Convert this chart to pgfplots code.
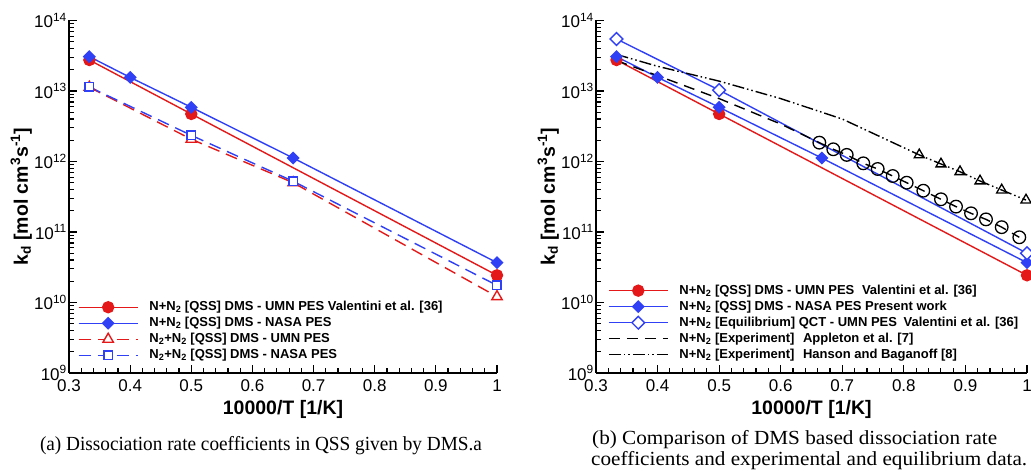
\documentclass[border=0pt]{standalone}
\usepackage{pgfplots}
\pgfplotsset{compat=1.18}
\usepackage{fontspec}
\setmainfont{Liberation Sans}
\newfontfamily\serif{Liberation Serif}
\usepackage{graphicx}
\definecolor{myred}{RGB}{228,24,24}
\definecolor{myblue}{RGB}{48,64,245}
\newcommand\fitw[2]{\setbox0\hbox{#2}\pgfmathsetmacro\sx{#1/\the\wd0}\scalebox{\sx}[1]{\box0}}

\pgfplotsset{
 kstyle/.style={
  scale only axis, anchor=south west,
  height=352.5pt,
  xmin=0.3, xmax=1, ymin=1e9, ymax=1e14,
  axis x line=bottom, axis y line=left,
  axis line style={-, line width=1.6pt},
  xtick={0.3,0.4,0.5,0.6,0.7,0.8,0.9,1},
  xticklabels={0.3,0.4,0.5,0.6,0.7,0.8,0.9,1},
  minor x tick num=4,
  ytick={1e9,1e10,1e11,1e12,1e13,1e14},
  yticklabels={10\textsuperscript{9},10\textsuperscript{10},10\textsuperscript{11},10\textsuperscript{12},10\textsuperscript{13},10\textsuperscript{14}},
  tick align=inside,
  major tick length=8pt, minor tick length=4.5pt,
  every tick/.style={black, line width=1.2pt},
  tick label style={font=\fontsize{17}{17}\selectfont},
  xticklabel style={yshift=-3pt},
  yticklabel style={inner xsep=2pt},
  xlabel={10000/T [1/K]},
  ylabel={k\textsubscript{d} [mol cm\textsuperscript{3}s\textsuperscript{-1}]},
  label style={font=\fontsize{19.5}{20}\selectfont\bfseries},
  xlabel style={at={([yshift=-27pt]axis description cs:0.5,0)}, anchor=north, inner sep=0pt},
  ylabel style={at={([xshift=-37pt]axis description cs:0,0.5)}, anchor=south, inner sep=0pt},
  legend style={draw=none, fill=none, inner sep=0pt, outer sep=0pt, anchor=north west,
     font=\fontsize{13}{13}\selectfont\bfseries, column sep=11pt, row sep=3pt,
     nodes={inner sep=0pt, text height=10pt, text depth=3pt}},
  legend cell align=left,
  legend image code/.code={\draw[mark repeat=2,mark phase=2] plot coordinates {(0pt,0pt)(29.5pt,0pt)(59pt,0pt)};},
 }
}

\begin{document}
\begin{tikzpicture}
\path[use as bounding box] (0pt,0pt) rectangle (1031pt,471pt);

% ---------- (a) ----------
\begin{axis}[ymode=log, kstyle, at={(69pt,98pt)}, width=428pt,
  legend style={at={(axis description cs:0.021,0.205)}}]
\addplot[myred, line width=1.4pt, mark=*, mark size=5.5pt]
  coordinates {(0.3333,2.75e13)(0.5,4.72e12)(1,2.43e10)};
\addlegendentry{N+N\textsubscript{2} [QSS] DMS - UMN PES Valentini et al. [36]}
\addplot[myblue, line width=1.4pt, mark=square*, mark size=3.9pt, mark options={rotate=45}]
  coordinates {(0.3333,3.07e13)(0.4,1.56e13)(0.5,5.87e12)(0.6667,1.12e12)(1,3.67e10)};
\addlegendentry{N+N\textsubscript{2} [QSS] DMS - NASA PES}
\addplot[myred, line width=1.4pt, dash pattern=on 12pt off 7pt, mark=triangle*, mark size=6pt, mark options={solid, fill=white}]
  coordinates {(0.3333,1.13e13)(0.5,2.07e12)(0.6667,5.0e11)(1,1.21e10)};
\addlegendentry{N\textsubscript{2}+N\textsubscript{2} [QSS] DMS - UMN PES}
\addplot[myblue, line width=1.4pt, dash pattern=on 12pt off 7pt, mark=square*, mark size=4.2pt, mark options={solid, fill=white}]
  coordinates {(0.3333,1.14e13)(0.5,2.35e12)(0.6667,5.24e11)(1,1.75e10)};
\addlegendentry{N\textsubscript{2}+N\textsubscript{2} [QSS] DMS - NASA PES}
\end{axis}

% ---------- (b) ----------
\begin{axis}[ymode=log, kstyle, at={(596pt,98pt)}, width=431pt,
  legend style={at={(axis description cs:0.028,0.252)}}]
\addplot[myred, line width=1.4pt, mark=*, mark size=5.5pt]
  coordinates {(0.3333,2.75e13)(0.5,4.72e12)(1,2.43e10)};
\addlegendentry{N+N\textsubscript{2} [QSS] DMS - UMN PES\hspace{4pt} Valentini et al. [36]}
\addplot[myblue, line width=1.4pt, mark=square*, mark size=3.9pt, mark options={rotate=45}]
  coordinates {(0.3333,3.07e13)(0.4,1.56e13)(0.5,5.87e12)(0.6667,1.12e12)(1,3.67e10)};
\addlegendentry{N+N\textsubscript{2} [QSS] DMS - NASA PES Present work}
\addplot[myblue, line width=1.4pt, mark=square*, mark size=4.5pt, mark options={rotate=45, fill=white}]
  coordinates {(0.3333,5.47e13)(0.5,1.03e13)(1,4.99e10)};
\addlegendentry{N+N\textsubscript{2} [Equilibrium] QCT - UMN PES\hspace{3pt} Valentini et al. [36]}
\addplot[black, line width=1.4pt, dash pattern=on 11pt off 7pt]
  coordinates {(0.3333,2.7e13)(0.4,1.65e13)(0.5,7.8e12)(0.6,3.4e12)(0.6627,1.85e12)
  (0.6854,1.49e12)(0.7072,1.24e12)(0.7341,9.42e11)(0.7575,7.83e11)(0.7819,6.22e11)
  (0.8046,5.00e11)(0.8316,3.85e11)(0.8603,2.91e11)(0.8847,2.29e11)(0.9091,1.84e11)
  (0.9334,1.51e11)(0.9589,1.17e11)(0.9875,8.41e10)};
\addlegendentry{N+N\textsubscript{2} [Experiment]\hspace{5pt} Appleton et al. [7]}
\addplot[black, line width=1.4pt, dash pattern=on 12pt off 3pt on 1.5pt off 3pt on 1.5pt off 3pt]
  coordinates {(0.3333,3.3e13)(0.4,2.24e13)(0.5,1.38e13)(0.6,7.8e12)(0.7,4.0e12)
  (0.825,1.24e12)(0.8603,9.22e11)(0.8912,7.16e11)(0.9237,5.29e11)(0.9589,3.94e11)(0.9984,2.84e11)};
\addlegendentry{N+N\textsubscript{2} [Experiment]\hspace{5pt} Hanson and Baganoff [8]}
\addplot[forget plot, black, line width=1.3pt, only marks, mark=o, mark size=6.3pt]
  coordinates {(0.6627,1.85e12)
  (0.6854,1.49e12)(0.7072,1.24e12)(0.7341,9.42e11)(0.7575,7.83e11)(0.7819,6.22e11)
  (0.8046,5.00e11)(0.8316,3.85e11)(0.8603,2.91e11)(0.8847,2.29e11)(0.9091,1.84e11)
  (0.9334,1.51e11)(0.9589,1.17e11)(0.9875,8.41e10)};
\addplot[forget plot, black, line width=1.3pt, only marks, mark=triangle, mark size=5.8pt]
  coordinates {(0.825,1.24e12)(0.8603,9.22e11)(0.8912,7.16e11)(0.9237,5.29e11)(0.9589,3.94e11)(0.9984,2.84e11)};
\end{axis}

% ---------- captions ----------
\node[anchor=base, inner sep=0pt] at (261pt,20pt)
  {\serif\fontsize{20}{20}\selectfont\fitw{442}{(a) Dissociation rate coefficients in QSS given by DMS.a}};
\node[anchor=base west, inner sep=0pt] at (592pt,26pt)
  {\serif\fontsize{20}{20}\selectfont\fitw{405}{(b) Comparison of DMS based dissociation rate}};
\node[anchor=base west, inner sep=0pt] at (591pt,5pt)
  {\serif\fontsize{20}{20}\selectfont\fitw{436}{coefficients and experimental and equilibrium data.}};
\end{tikzpicture}
\end{document}
